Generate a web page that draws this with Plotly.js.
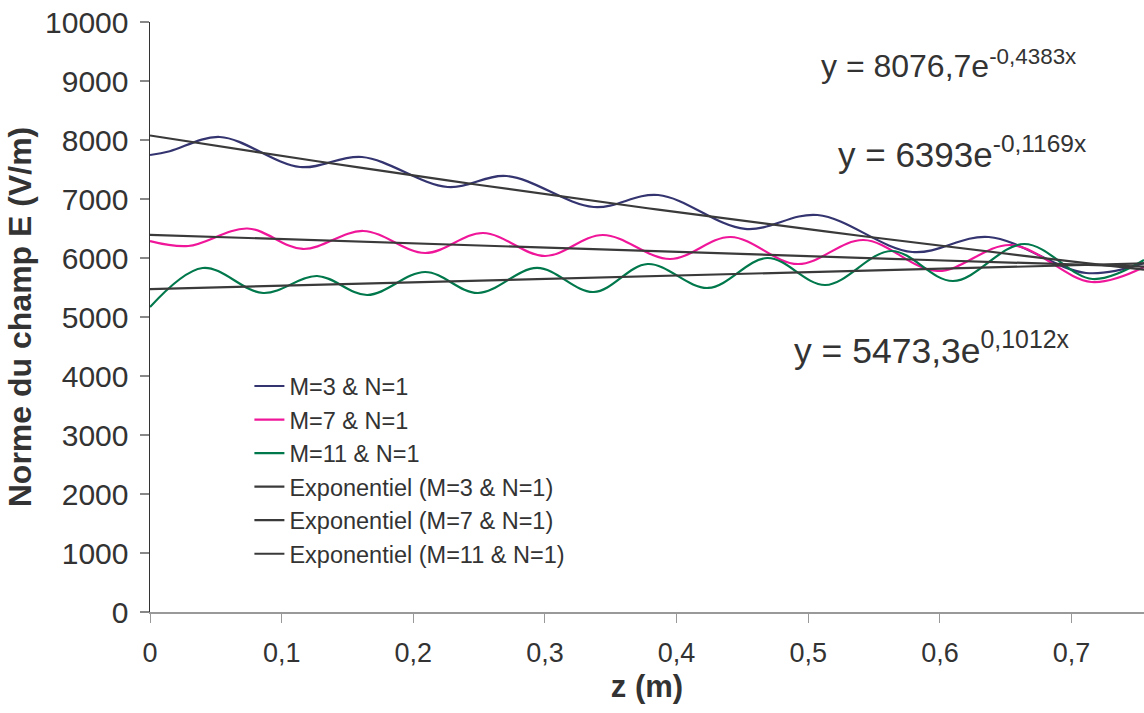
<!DOCTYPE html>
<html>
<head>
<meta charset="utf-8">
<script src="https://cdn.plot.ly/plotly-3.0.1.min.js"></script>
<style>html,body{margin:0;padding:0;background:#fff;}#chart{width:1144px;height:713px;}</style>
</head>
<body>
<div id="chart"></div>
<script>
// ---- Data ----
const seriesNames = ["M=3 & N=1", "M=7 & N=1", "M=11 & N=1"];
const trendNames = ["Exponentiel (M=3 & N=1)", "Exponentiel (M=7 & N=1)", "Exponentiel (M=11 & N=1)"];

const zM3 = [0, 0.015, 0.053, 0.114, 0.161, 0.226, 0.271, 0.337, 0.386, 0.452, 0.507, 0.579, 0.637, 0.711, 0.755];
const eM3 = [7746, 7810, 8051, 7542, 7712, 7203, 7390, 6864, 7068, 6492, 6729, 6102, 6356, 5746, 5915];

const zM7 = [0, 0.029, 0.074, 0.116, 0.162, 0.209, 0.253, 0.300, 0.344, 0.395, 0.441, 0.492, 0.542, 0.598, 0.654, 0.715, 0.755];
const eM7 = [6288, 6203, 6500, 6153, 6458, 6085, 6424, 6034, 6390, 5983, 6356, 5898, 6305, 5780, 6220, 5593, 5847];

const zM11 = [0, 0.040, 0.086, 0.127, 0.165, 0.209, 0.249, 0.294, 0.337, 0.378, 0.424, 0.469, 0.513, 0.563, 0.610, 0.664, 0.716, 0.755];
const eM11 = [5169, 5831, 5407, 5695, 5373, 5763, 5407, 5831, 5424, 5898, 5492, 6000, 5542, 6119, 5610, 6237, 5644, 5966];

// exponential trend-line coefficients shown on the chart: y = a * e^(b x)
const trendA = [8076.7, 6393, 5473.3];
const trendB = [-0.4383, -0.1169, 0.1012];
const trendBase = ["y = 8076,7e", "y = 6393e", "y = 5473,3e"];
const trendExp = ["-0,4383x", "-0,1169x", "0,1012x"];

const xTickVals = [0, 0.1, 0.2, 0.3, 0.4, 0.5, 0.6, 0.7];
const xTickText = ["0", "0,1", "0,2", "0,3", "0,4", "0,5", "0,6", "0,7"];
const yTickVals = [0, 1000, 2000, 3000, 4000, 5000, 6000, 7000, 8000, 9000, 10000];
const yTickText = ["0", "1000", "2000", "3000", "4000", "5000", "6000", "7000", "8000", "9000", "10000"];

// ---- Styling ----
const colors = ["#343470", "#F0169A", "#00784C"];
const trendColor = "#3a3a3a";
const FONT = "Liberation Sans, Arial, Helvetica, sans-serif";

const xs = [zM3, zM7, zM11];
const ys = [eM3, eM7, eM11];

const traces = [];
for (let i = 0; i < 3; i++) {
  traces.push({
    x: xs[i], y: ys[i], name: seriesNames[i], type: "scatter", mode: "lines",
    line: {color: colors[i], width: 2.2, shape: "spline", smoothing: 1.0}
  });
}
// trend lines evaluated on the data's own x positions (range 0 .. last z)
const zAll = Array.from(new Set([].concat(zM3, zM7, zM11))).sort((a, b) => a - b);
for (let i = 0; i < 3; i++) {
  traces.push({
    x: zAll, y: zAll.map(z => trendA[i] * Math.exp(trendB[i] * z)),
    name: trendNames[i], type: "scatter", mode: "lines",
    line: {color: trendColor, width: 2.2}
  });
}

const annPos = [[0.673, 0.929], [0.690, 0.780], [0.646, 0.446]];
const annSize = [32, 35, 35.5];
const annotations = trendBase.map((t, i) => ({
  text: t + "<sup>" + trendExp[i] + "</sup>",
  xref: "paper", yref: "paper", x: annPos[i][0], y: annPos[i][1],
  xanchor: "left", yanchor: "middle", showarrow: false,
  font: {family: FONT, size: annSize[i], color: "#333"}
}));

const layout = {
  width: 1144, height: 713,
  margin: {l: 150, r: 0, t: 22, b: 101, pad: 0},
  paper_bgcolor: "#fff", plot_bgcolor: "#fff",
  font: {family: FONT, color: "#333"},
  showlegend: true,
  legend: {
    x: 0.1, y: 0.42, xanchor: "left", yanchor: "top",
    bgcolor: "rgba(0,0,0,0)", font: {family: FONT, size: 23.5, color: "#333"},
    itemwidth: 30, tracegroupgap: 0
  },
  xaxis: {
    range: [0, 0.755], tickvals: xTickVals, ticktext: xTickText,
    showgrid: false, zeroline: false, showline: true, linecolor: "#999", linewidth: 2,
    ticks: "outside", ticklen: 9, tickcolor: "#999", tickwidth: 1,
    tickfont: {family: FONT, size: 27, color: "#333"}, ticklabelstandoff: 7,
    title: {text: "<b>z (m)</b>", font: {family: FONT, size: 31, color: "#333"}, standoff: 8}
  },
  yaxis: {
    range: [0, 10000], tickvals: yTickVals, ticktext: yTickText,
    showgrid: false, zeroline: false, showline: true, linecolor: "#333", linewidth: 1.5,
    ticks: "outside", ticklen: 9, tickcolor: "#888", tickwidth: 1.5,
    tickfont: {family: FONT, size: 30, color: "#333"}, ticklabelstandoff: 5,
    title: {text: "<b>Norme du champ E (V/m)</b>", font: {family: FONT, size: 32, color: "#333"}, standoff: 4}
  },
  annotations: annotations
};

Plotly.newPlot("chart", traces, layout, {displayModeBar: false, staticPlot: true});
</script>
</body>
</html>
